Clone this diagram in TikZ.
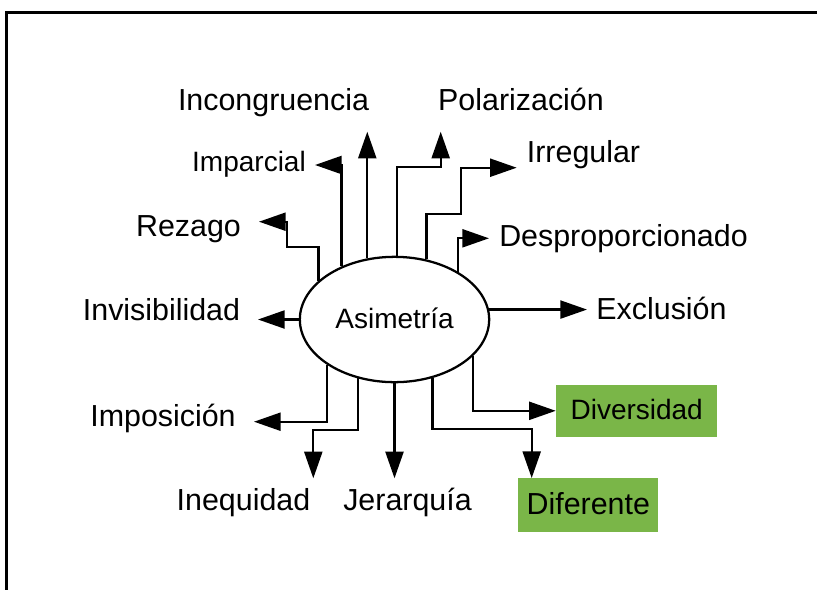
\documentclass[tikz,border=0pt]{standalone}
\usepackage{fontspec}
\setmainfont{Liberation Sans}
\usetikzlibrary{arrows.meta}
\usetikzlibrary{shapes.geometric}
\definecolor{verde}{RGB}{122,182,72}

\tikzset{
  etiq/.style={anchor=base, inner sep=0pt, font=\fontsize{22.8}{27}\selectfont},
  chica/.style={font=\fontsize{21}{25}\selectfont},
  flecha/.style={line width=1.7pt, -{Triangle[length=20pt, width=13.5pt]}},
  caja/.style={fill=verde, inner sep=0pt, text depth=0.25em}
}

\begin{document}
\begin{tikzpicture}[x=0.75pt, y=-0.75pt]
      \useasboundingbox (0,0) rectangle (817,590);
      \draw[line width=1.6pt] (817,12.5) -- (6.5,12.5) -- (6.5,590);

      \node[ellipse, draw, line width=1.7pt, minimum width=142pt, minimum height=94pt, inner sep=0pt, text depth=0.25em, chica] (asim) at (394.5,319.5) {Asimetría};

      \node[etiq] (inc) at (273.5,110) {Incongruencia};
      \node[etiq] (pol) at (521,110) {Polarización};
      \node[etiq, chica] (imp) at (249,171.7) {Imparcial};
      \node[etiq] (irr) at (583.5,162.7) {Irregular};
      \node[etiq] (rez) at (188.5,236) {Rezago};
      \node[etiq] (des) at (623.5,246) {Desproporcionado};
      \node[etiq] (inv) at (161.5,320) {Invisibilidad};
      \node[etiq] (exc) at (661.5,319) {Exclusión};
      \node[etiq] (ipo) at (163,426.7) {Imposición};
      \node[etiq] (ine) at (243.5,510.7) {Inequidad};
      \node[etiq] (jer) at (407.5,510.7) {Jerarquía};
      \node[caja, chica, minimum width=121pt, minimum height=38.8pt] (div) at (636.7,410.8) {Diversidad};
      \node[caja, font=\fontsize{22.8}{27}\selectfont, minimum width=105pt, minimum height=40pt] (dif) at (588.3,505) {Diferente};

      \draw[flecha] (asim.114.3) -- (asim.114.3 |- 0,131.7);
      \draw[flecha] (asim.88) |- (440.7,166.7) -- (440.7,131.7);
      \draw[flecha] (asim.62.3) |- (461,214) |- (516.7,167.7);
      \draw[flecha] (asim.37.3) |- (489,238.3);
      \draw[flecha] (asim.6.2) -- (asim.6.2 -| 587,0);
      \draw[flecha] (asim.335) |- (div.west);
      \draw[flecha] (asim.303) |- (531.7,429.3) -- (531.7,429.3 |- dif.north);
      \draw[flecha] (asim.270) -- (asim.270 |- 0,478.3);
      \draw[flecha] (asim.238.4) |- (313.3,430) -- (313.3,478.3);
      \draw[flecha] (asim.214.2) |- (254,421.7);
      \draw[flecha] (asim.180) -- (asim.180 -| 258,0);
      \draw[flecha] (asim.153) |- (286.7,247.3) |- (259,221.7);
      \draw[flecha] (asim.135) |- (315,165);
    \end{tikzpicture}
\end{document}
